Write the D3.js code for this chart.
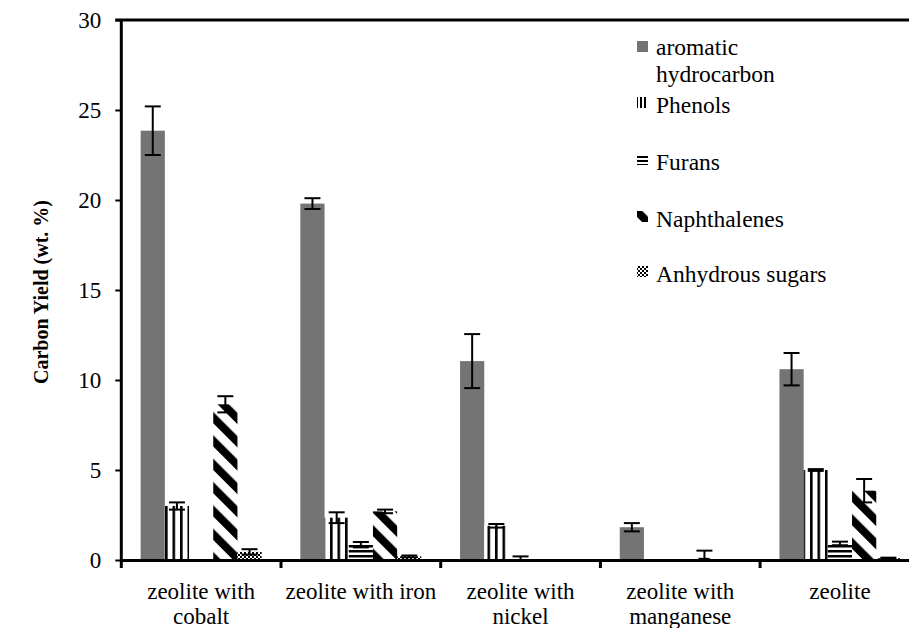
<!DOCTYPE html>
<html>
<head>
<meta charset="utf-8">
<script src="https://cdn.jsdelivr.net/npm/d3@7"></script>
<style>
  body { margin: 0; background: #fff; }
  svg text, svg tspan { font-family: "Liberation Serif", "Times New Roman", serif; fill: #000; }
</style>
</head>
<body>
<svg id="chart" width="909" height="628" font-family="Liberation Serif, serif"></svg>
<script>
// categories + series
var categories = ["zeolite with cobalt", "zeolite with iron", "zeolite with nickel", "zeolite with manganese", "zeolite"];
var seriesNames = ["aromatic hydrocarbon", "Phenols", "Furans", "Naphthalenes", "Anhydrous sugars"];

// values per series (one value per category)
var aromatic   = [23.85, 19.8, 11.05, 1.82, 10.6];
var phenols    = [3.0, 2.35, 1.9, 0, 5.0];
var furans     = [0, 0.85, 0.1, 0, 0.92];
var naphth     = [8.65, 2.7, 0, 0.12, 3.85];
var sugars     = [0.45, 0.2, 0, 0, 0.1];

// error (+/-)
var aromaticErr = [1.35, 0.3, 1.5, 0.23, 0.9];
var phenolsErr  = [0.2, 0.3, 0.1, 0, 0.05];
var furansErr   = [0, 0.15, 0.1, 0, 0.1];
var naphthErr   = [0.45, 0.1, 0, 0.4, 0.65];
var sugarsErr   = [0.15, 0.05, 0, 0, 0.03];

var yTicks = [0, 5, 10, 15, 20, 25, 30];

var allValues = [aromatic, phenols, furans, naphth, sugars];
var allErrors = [aromaticErr, phenolsErr, furansErr, naphthErr, sugarsErr];
var fills = ["#747474", "url(#pat-vert)", "url(#pat-horiz)", "url(#pat-diag)", "url(#pat-check)"];
var legendFills = ["#747474", "url(#pat-vert-sm)", "url(#pat-horiz-sm)", "url(#pat-diag)", "url(#pat-check)"];

var serif = "'Liberation Serif', 'Times New Roman', serif";

var chart_vars = {
  left: 121.3,
  right: 919.8,
  top: 20,
  bottom: 560
};

var svg = d3.select("svg#chart");
svg.append("rect").attr("width", 909).attr("height", 628).attr("fill", "#fff");

////////////// patterns //////////////
var defs = svg.append("defs");

function stripes(id, w, h, bw, bh) {
  var p = defs.append("pattern").attr("id", id)
    .attr("patternUnits", "userSpaceOnUse").attr("width", w).attr("height", h);
  p.append("rect").attr("width", w).attr("height", h).attr("fill", "#fff");
  p.append("rect").attr("width", bw).attr("height", bh).attr("fill", "#000");
  return p;
}
stripes("pat-vert", 7.5, 10, 2.6, 10);
stripes("pat-vert-sm", 4, 10, 2, 10);
stripes("pat-horiz", 10, 5, 10, 2.5);
stripes("pat-horiz-sm", 10, 4, 10, 2);
stripes("pat-diag", 16.5, 16.5, 8, 16.5).attr("patternTransform", "rotate(-45)");

var pc = defs.append("pattern").attr("id", "pat-check")
  .attr("patternUnits", "userSpaceOnUse").attr("width", 4).attr("height", 4);
pc.append("rect").attr("width", 4).attr("height", 4).attr("fill", "#fff");
pc.append("rect").attr("width", 2).attr("height", 2).attr("fill", "#000");
pc.append("rect").attr("x", 2).attr("y", 2).attr("width", 2).attr("height", 2).attr("fill", "#000");

////////////// scales //////////////
var x0 = d3.scaleBand().domain(categories).range([chart_vars.left, chart_vars.right]).padding(0);
var x1 = d3.scaleBand().domain(seriesNames).range([0, x0.bandwidth()]).paddingInner(0).paddingOuter(0.8);
var yScale = d3.scaleLinear().domain([0, 30]).range([chart_vars.bottom, chart_vars.top]);

// flatten data
var data = [];
seriesNames.forEach(function(s, i) {
  categories.forEach(function(c, j) {
    data.push({ cat: c, series: s, idx: i, value: allValues[i][j], err: allErrors[i][j] });
  });
});

////////////// bars //////////////
var g = svg.append("g").attr("class", "graphContainer");

g.selectAll("rect.bar")
  .data(data.filter(function(d) { return d.value > 0; }))
  .enter()
  .append("rect")
  .attr("class", "bar")
  .attr("x", function(d) { return x0(d.cat) + x1(d.series); })
  .attr("width", x1.bandwidth())
  .attr("y", function(d) { return yScale(d.value); })
  .attr("height", function(d) { return yScale(0) - yScale(d.value); })
  .attr("fill", function(d) { return fills[d.idx]; });

////////////// error bars //////////////
var eb = g.selectAll("g.errbar")
  .data(data.filter(function(d) { return d.err > 0; }))
  .enter()
  .append("g").attr("class", "errbar")
  .attr("stroke", "#000").attr("stroke-width", 2);

function cx(d) { return x0(d.cat) + x1(d.series) + x1.bandwidth() / 2; }
function lo(d) { return yScale(Math.max(0, d.value - d.err)); }
function hi(d) { return yScale(d.value + d.err); }

eb.append("line")
  .attr("x1", cx).attr("x2", cx)
  .attr("y1", lo).attr("y2", hi);
eb.append("line")
  .attr("x1", function(d) { return cx(d) - 8; }).attr("x2", function(d) { return cx(d) + 8; })
  .attr("y1", hi).attr("y2", hi);
eb.append("line")
  .attr("x1", function(d) { return cx(d) - 8; }).attr("x2", function(d) { return cx(d) + 8; })
  .attr("y1", lo).attr("y2", lo);

////////////// axes //////////////
var axis_left = d3.axisLeft(yScale).tickValues(yTicks).tickSize(6).tickPadding(14);
var gy = svg.append("g").attr("class", "axis axis--y")
  .attr("transform", "translate(" + chart_vars.left + ",0)")
  .call(axis_left)
  .attr("font-family", serif)
  .attr("font-size", 23);
gy.select("path.domain").attr("stroke-width", 3).attr("d", "M0," + (chart_vars.bottom + 8) + "V" + chart_vars.top);
gy.selectAll("g.tick line").attr("stroke-width", 2);
gy.selectAll("g.tick text")
  .style("font-family", serif)
  .style("font-size", "23px");

// top border of plot area
svg.append("line")
  .attr("x1", chart_vars.left - 6).attr("x2", chart_vars.right)
  .attr("y1", yScale(30)).attr("y2", yScale(30))
  .attr("stroke", "#000").attr("stroke-width", 3);

var axis_bottom = d3.axisBottom(x0).tickSize(0).tickPadding(23);
var gx = svg.append("g").attr("class", "axis axis--x")
  .attr("transform", "translate(0," + chart_vars.bottom + ")")
  .call(axis_bottom)
  .attr("font-family", serif)
  .attr("font-size", 23);
gx.select("path.domain").attr("stroke-width", 3);
gx.selectAll("g.tick text")
  .style("font-family", serif)
  .style("font-size", "23px")
  .call(wrap, x0.bandwidth() - 4);

// category boundary ticks
gx.selectAll("line.sep")
  .data(categories.slice(1).concat(["_end"]))
  .enter()
  .append("line")
  .attr("class", "sep")
  .attr("x1", function(d) { return d === "_end" ? chart_vars.right : x0(d); })
  .attr("x2", function(d) { return d === "_end" ? chart_vars.right : x0(d); })
  .attr("y1", 0).attr("y2", 8)
  .attr("stroke", "#000").attr("stroke-width", 3);

// y axis title
svg.append("text")
  .attr("transform", "translate(48," + ((chart_vars.top + chart_vars.bottom) / 2 + 2) + ") rotate(-90)")
  .attr("text-anchor", "middle")
  .style("font-family", serif)
  .style("font-weight", "bold")
  .style("font-size", "20px")
  .text("Carbon Yield (wt. %)");

////////////// legend //////////////
var legendLines = [["aromatic", "hydrocarbon"], ["Phenols"], ["Furans"], ["Naphthalenes"], ["Anhydrous sugars"]];
var legendBase = [55, 113, 170, 227, 282];
var legendMarkY = [41, 97, 154, 211, 266];

var lg = svg.append("g").attr("class", "legend");
var li = lg.selectAll("g.item").data(seriesNames).enter().append("g").attr("class", "item");
li.append("rect")
  .attr("x", 637).attr("y", function(d, i) { return legendMarkY[i]; })
  .attr("width", 11).attr("height", 11)
  .attr("fill", function(d, i) { return legendFills[i]; });
li.append("text")
  .attr("x", 656)
  .attr("y", function(d, i) { return legendBase[i]; })
  .style("font-family", serif)
  .style("font-size", "23.5px")
  .selectAll("tspan")
  .data(function(d, i) { return legendLines[i]; })
  .enter()
  .append("tspan")
  .attr("x", 656)
  .attr("dy", function(d, k) { return k === 0 ? 0 : 27; })
  .text(function(d) { return d; });

function wrap(text, width) {
  text.each(function() {
    var t = d3.select(this),
        words = t.text().split(/\s+/),
        line = [],
        lines = [];
    words.forEach(function(w) {
      line.push(w);
      t.text(line.join(" "));
      if (t.node().getComputedTextLength() > width && line.length > 1) {
        line.pop();
        lines.push(line.join(" "));
        line = [w];
      }
    });
    lines.push(line.join(" "));
    var y = t.attr("y"), dy = parseFloat(t.attr("dy")) || 0;
    t.text(null);
    lines.forEach(function(l, k) {
      var ts = t.append("tspan").attr("x", 0).text(l);
      if (k === 0) ts.attr("y", y).attr("dy", dy + "em");
      else ts.attr("dy", "25px");
    });
  });
}
</script>
</body>
</html>
